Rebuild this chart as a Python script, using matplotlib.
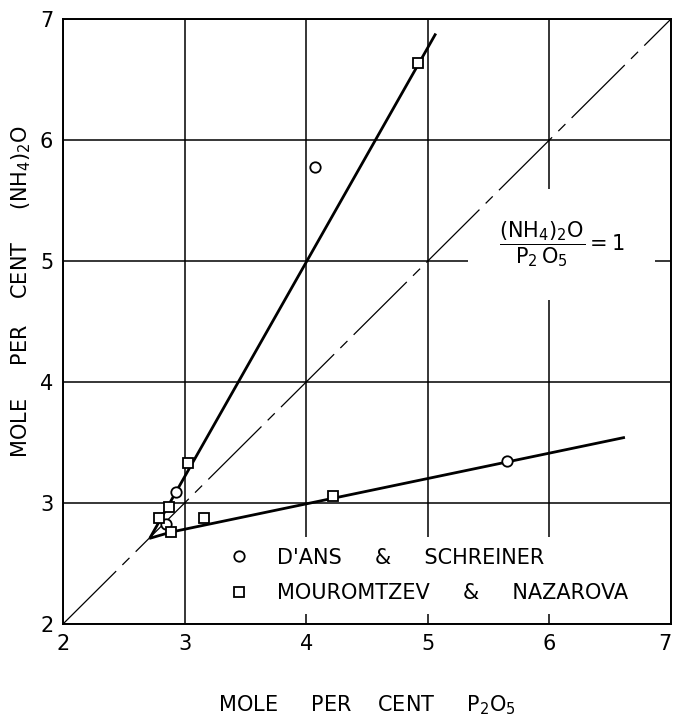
import numpy as np
import matplotlib.pyplot as plt

plt.rcParams['font.family'] = ['DejaVu Sans']
plt.rcParams['mathtext.default'] = 'regular'

# D'Ans & Schreiner (circles)
dans_x = [2.85, 2.93, 4.07, 5.65]
dans_y = [2.83, 3.09, 5.78, 3.35]
# Mouromtzev & Nazarova (squares)
mour_x = [2.79, 2.87, 2.89, 3.03, 3.16, 4.22, 4.92]
mour_y = [2.88, 2.97, 2.76, 3.33, 2.88, 3.06, 6.64]
# drawn curves
steep_x = [2.72, 5.06]
steep_y = [2.72, 6.87]
low_x = [2.72, 2.89, 6.61]
low_y = [2.71, 2.76, 3.54]
ratio_x = [2, 7]
ratio_y = [2, 7]
ticks = [2, 3, 4, 5, 6, 7]

fig = plt.figure(figsize=(6.75, 7.2), dpi=100)
ax = fig.add_axes([63 / 675, 96 / 720, 608 / 675, 605 / 720])
ax.set_xlim(2, 7)
ax.set_ylim(2, 7)
ax.set_xticks(ticks)
ax.set_yticks(ticks)
ax.tick_params(length=0, labelsize=15, pad=7)
ax.get_xticklabels()[-1].set_horizontalalignment('right')
ax.set_axisbelow(True)
ax.grid(True, color='black', lw=1.1)
for s in ax.spines.values():
    s.set_linewidth(1.4)

# ratio = 1 line
ax.plot(ratio_x, ratio_y, color='black', lw=0.9, dashes=(60, 7, 8, 7), zorder=2)
ax.plot(steep_x, steep_y, color='black', lw=2.0, zorder=3)
ax.plot(low_x, low_y, color='black', lw=2.0, zorder=3)

ax.plot(dans_x, dans_y, ls='none', marker='o', ms=7.5, mfc='white', mec='black',
        mew=1.3, zorder=4, label="D'ANS     &     SCHREINER")
ax.plot(mour_x, mour_y, ls='none', marker='s', ms=7, mfc='white', mec='black',
        mew=1.3, zorder=4, label='MOUROMTZEV     &     NAZAROVA')

leg = ax.legend(loc='lower left', bbox_to_anchor=(0.235, 0.0), frameon=True,
                fontsize=15, handlelength=1.2, handletextpad=1.2, labelspacing=0.75,
                borderpad=0.5, fancybox=False)
leg.get_frame().set_facecolor('white')
leg.get_frame().set_edgecolor('none')
leg.get_frame().set_alpha(1)
leg.set_zorder(1.5)

ax.text(6.1, 5.14, r'$\dfrac{(NH_4)_2O}{P_2\,O_5} = 1$', fontsize=15,
        ha='center', va='center', zorder=1.5,
        bbox=dict(facecolor='white', edgecolor='none', pad=22))

ax.set_xlabel(r'MOLE     PER    CENT     P$_2$O$_5$', fontsize=15)
ax.xaxis.set_label_coords(0.5, -0.115)
ax.set_ylabel(r'MOLE     PER    CENT     (NH$_4$)$_2$O', fontsize=15)
ax.yaxis.set_label_coords(-0.05, 0.55)

fig.savefig('out.png', dpi=100)
